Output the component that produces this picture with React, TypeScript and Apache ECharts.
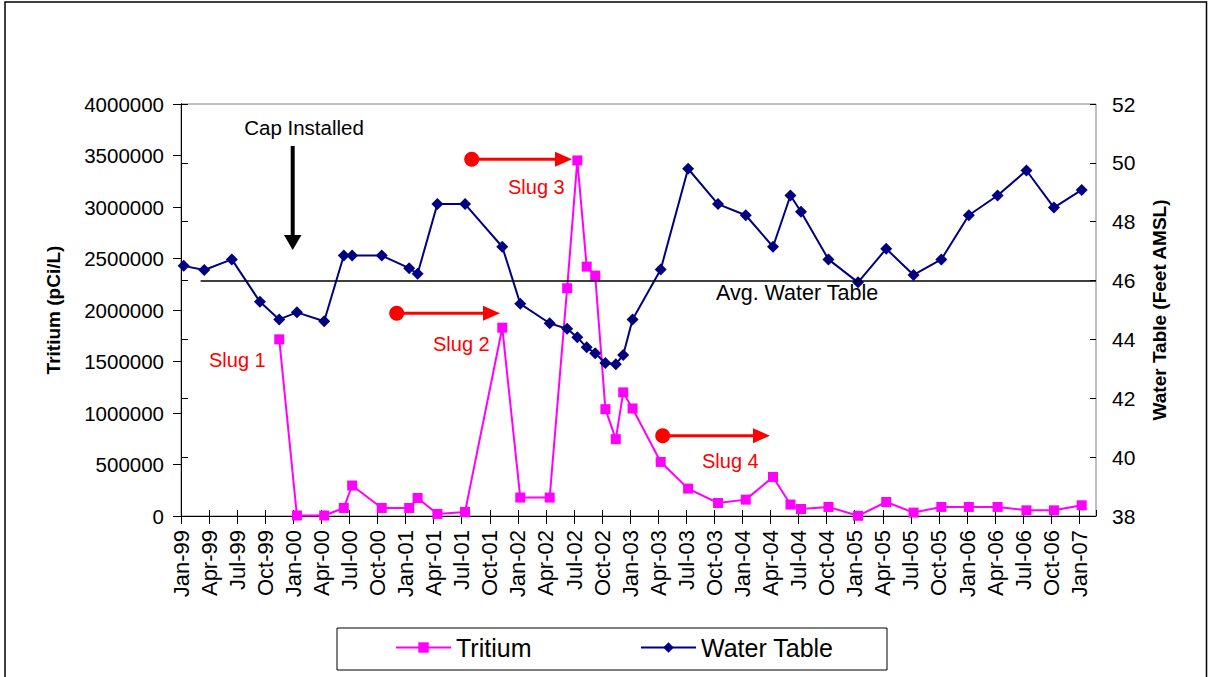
import React, { useEffect, useRef } from "react";
import * as echarts from "echarts";

// Sampling dates (shared by both series)
const sampleDates = [
  "1999-01-10", "1999-03-16", "1999-06-14", "1999-09-14", "1999-11-16",
  "2000-01-13", "2000-04-10", "2000-06-13", "2000-07-10", "2000-10-15",
  "2001-01-13", "2001-02-09", "2001-04-13", "2001-07-12", "2001-11-11",
  "2002-01-09", "2002-04-13", "2002-06-09", "2002-07-12", "2002-08-12",
  "2002-09-09", "2002-10-12", "2002-11-15", "2002-12-09", "2003-01-09",
  "2003-04-09", "2003-07-07", "2003-10-13", "2004-01-12", "2004-04-09",
  "2004-06-05", "2004-07-09", "2004-10-07", "2005-01-12", "2005-04-12",
  "2005-07-10", "2005-10-09", "2006-01-07", "2006-04-09", "2006-07-12",
  "2006-10-10", "2007-01-09",
];

// Water table, feet AMSL
const waterTable = [
  46.5, 46.36, 46.72, 45.28, 44.68,
  44.92, 44.62, 46.85, 46.85, 46.85,
  46.42, 46.23, 48.6, 48.6, 47.15,
  45.21, 44.55, 44.36, 44.07, 43.73,
  43.53, 43.2, 43.16, 43.47, 44.68,
  46.38, 49.8, 48.6, 48.22, 47.15,
  48.89, 48.34, 46.72, 45.94, 47.08,
  46.19, 46.72, 48.22, 48.89, 49.74,
  48.48, 49.08,
];

// Tritium, pCi/L (no samples before Nov-99)
const tritium = [
  null, null, null, null, 1715000,
  5000, 5000, 78000, 296000, 78000,
  78000, 175000, 20000, 39000, 1828000,
  179000, 179000, 2211000, 3452000, 2421000,
  2334000, 1037000, 746000, 1200000, 1044000,
  525000, 266000, 126000, 159000, 379000,
  111000, 68000, 88000, 2000, 136000,
  33000, 88000, 88000, 88000, 55000,
  55000, 104000,
];

const xTickLabels = [
  "Jan-99", "Apr-99", "Jul-99", "Oct-99",
  "Jan-00", "Apr-00", "Jul-00", "Oct-00",
  "Jan-01", "Apr-01", "Jul-01", "Oct-01",
  "Jan-02", "Apr-02", "Jul-02", "Oct-02",
  "Jan-03", "Apr-03", "Jul-03", "Oct-03",
  "Jan-04", "Apr-04", "Jul-04", "Oct-04",
  "Jan-05", "Apr-05", "Jul-05", "Oct-05",
  "Jan-06", "Apr-06", "Jul-06", "Oct-06",
  "Jan-07",
];

const avgWaterTable = 46;
const avgLineStartDate = "1999-03-04";
const axisEndDate = "2007-02-23";

function monthIndex(d: string): number {
  const [y, m, day] = d.split("-").map(Number);
  const dim = new Date(y, m, 0).getDate();
  return (y - 1999) * 12 + (m - 1) + (day - 1) / dim;
}

const FONT = "'Liberation Sans', Arial, Helvetica, sans-serif";
const RED = "#FF0000";

function redArrow(cx: number, cy: number, tipX: number) {
  return [
    { type: "line", shape: { x1: cx, y1: cy, x2: tipX - 14, y2: cy }, style: { stroke: RED, lineWidth: 3 } },
    { type: "polygon", shape: { points: [[tipX, cy], [tipX - 17, cy - 7.5], [tipX - 17, cy + 7.5]] }, style: { fill: RED } },
    { type: "circle", shape: { cx, cy, r: 7.5 }, style: { fill: RED } },
  ];
}

function label(text: string, x: number, y: number, color: string, size = 20, align = "left") {
  return {
    type: "text",
    x,
    y,
    style: { text, fill: color, fontSize: size, fontFamily: FONT, align, verticalAlign: "middle" },
  };
}

export default function App() {
  const ref = useRef<HTMLDivElement>(null);

  useEffect(() => {
    document.body.style.margin = "0";
    if (!ref.current) return;
    const chart = echarts.init(ref.current, undefined, { renderer: "svg" });

    const xMax = monthIndex(axisEndDate);
    const waterData = sampleDates.map((d, i) => [monthIndex(d), waterTable[i]]);
    const tritiumData = sampleDates
      .map((d, i) => [monthIndex(d), tritium[i]])
      .filter((p) => p[1] !== null);

    const xFormatter = (v: number) => {
      const q = v / 3;
      if (Math.abs(q - Math.round(q)) > 1e-6) return "";
      return xTickLabels[Math.round(q)] ?? "";
    };

    const option: any = {
      animation: false,
      textStyle: { fontFamily: FONT },
      grid: {
        left: 181,
        top: 104,
        width: 915,
        height: 412,
        show: true,
        borderColor: "#808080",
        borderWidth: 1,
        backgroundColor: "transparent",
      },
      xAxis: [
        {
          type: "value",
          min: 0,
          max: xMax,
          interval: 3,
          position: "bottom",
          axisLine: { show: true, onZero: false, lineStyle: { color: "#000", width: 1 } },
          axisTick: { show: true, length: 8, lineStyle: { color: "#000" } },
          axisLabel: {
            rotate: 90,
            margin: 14,
            fontSize: 22,
            color: "#000",
            fontFamily: FONT,
            formatter: xFormatter,
            showMaxLabel: false,
          },
          splitLine: { show: false },
        },
        {
          type: "value",
          min: 0,
          max: xMax,
          interval: 3,
          position: "bottom",
          axisLine: { show: false, onZero: false },
          axisTick: { show: true, inside: true, length: 6, lineStyle: { color: "#000" } },
          axisLabel: { show: false },
          splitLine: { show: false },
        },
      ],
      yAxis: [
        {
          type: "value",
          min: 0,
          max: 4000000,
          interval: 500000,
          position: "left",
          name: "Tritium (pCi/L)",
          nameLocation: "middle",
          nameGap: 118,
          nameRotate: 90,
          nameTextStyle: { fontSize: 19, fontWeight: "bold", color: "#000", fontFamily: FONT },
          axisLine: { show: true, lineStyle: { color: "#000" } },
          axisTick: { show: true, length: 8, lineStyle: { color: "#000" } },
          axisLabel: {
            fontSize: 20.5,
            color: "#000",
            margin: 17,
            fontFamily: FONT,
            formatter: (v: number) => String(v),
          },
          splitLine: { show: false },
        },
        {
          type: "value",
          min: 38,
          max: 52,
          interval: 2,
          position: "right",
          name: "Water Table (Feet AMSL)",
          nameLocation: "middle",
          nameGap: 54,
          nameRotate: 90,
          nameTextStyle: { fontSize: 19, fontWeight: "bold", color: "#000", fontFamily: FONT },
          axisLine: { show: true, lineStyle: { color: "#000" } },
          axisTick: { show: true, length: 7, lineStyle: { color: "#000" } },
          axisLabel: { fontSize: 21, color: "#000", margin: 16, fontFamily: FONT },
          splitLine: { show: false },
        },
        {
          type: "value",
          min: 38,
          max: 52,
          interval: 2,
          position: "right",
          axisLine: { show: false },
          axisTick: { show: true, inside: true, length: 6, lineStyle: { color: "#000" } },
          axisLabel: { show: false },
          splitLine: { show: false },
        },
      ],
      legend: [
        {
          data: ["Tritium"],
          left: 395,
          top: 635,
          padding: 0,
          itemWidth: 55,
          itemHeight: 13,
          selectedMode: false,
          textStyle: { fontSize: 25, color: "#000", fontFamily: FONT },
        },
        {
          data: ["Water Table"],
          left: 640,
          top: 635,
          padding: 0,
          itemWidth: 55,
          itemHeight: 13,
          selectedMode: false,
          textStyle: { fontSize: 25, color: "#000", fontFamily: FONT },
        },
      ],
      series: [
        {
          name: "Tritium",
          type: "line",
          xAxisIndex: 0,
          yAxisIndex: 0,
          data: tritiumData,
          symbol: "rect",
          symbolSize: 10,
          itemStyle: { color: "#FF00FF" },
          lineStyle: { color: "#FF00FF", width: 2 },
          z: 3,
        },
        {
          name: "Water Table",
          type: "line",
          xAxisIndex: 0,
          yAxisIndex: 1,
          data: waterData,
          symbol: "diamond",
          symbolSize: 12,
          itemStyle: { color: "#000080" },
          lineStyle: { color: "#000080", width: 2 },
          z: 4,
          markLine: {
            silent: true,
            symbol: ["none", "none"],
            label: { show: false },
            lineStyle: { color: "#000", width: 1.5, type: "solid" },
            data: [
              [
                { coord: [monthIndex(avgLineStartDate), avgWaterTable] },
                { coord: [xMax, avgWaterTable] },
              ],
            ],
          },
        },
      ],
      graphic: [
        { type: "rect", shape: { x: 5, y: 2, width: 1201.5, height: 700 }, style: { fill: "none", stroke: "#000", lineWidth: 1.5 }, silent: true },
        { type: "rect", shape: { x: 337, y: 628, width: 550, height: 42 }, style: { fill: "none", stroke: "#000", lineWidth: 1 }, silent: true },
        // Cap installed arrow
        { type: "line", shape: { x1: 292.7, y1: 146, x2: 292.7, y2: 237 }, style: { stroke: "#000", lineWidth: 4 } },
        { type: "polygon", shape: { points: [[284, 235], [301.5, 235], [292.7, 250]] }, style: { fill: "#000" } },
        ...redArrow(471.7, 159.3, 572),
        ...redArrow(396.7, 313.3, 500),
        ...redArrow(662.7, 435.7, 770),
        label("Cap Installed", 304, 127, "#000", 20.5, "center"),
        label("Slug 1", 209, 360, RED),
        label("Slug 2", 433, 344, RED),
        label("Slug 3", 508, 187, RED),
        label("Slug 4", 702, 461, RED),
        label("Avg. Water Table", 716, 293, "#000", 21.5),
      ],
    };

    chart.setOption(option);
    return () => chart.dispose();
  }, []);

  return <div ref={ref} style={{ width: 1209, height: 677 }} />;
}
